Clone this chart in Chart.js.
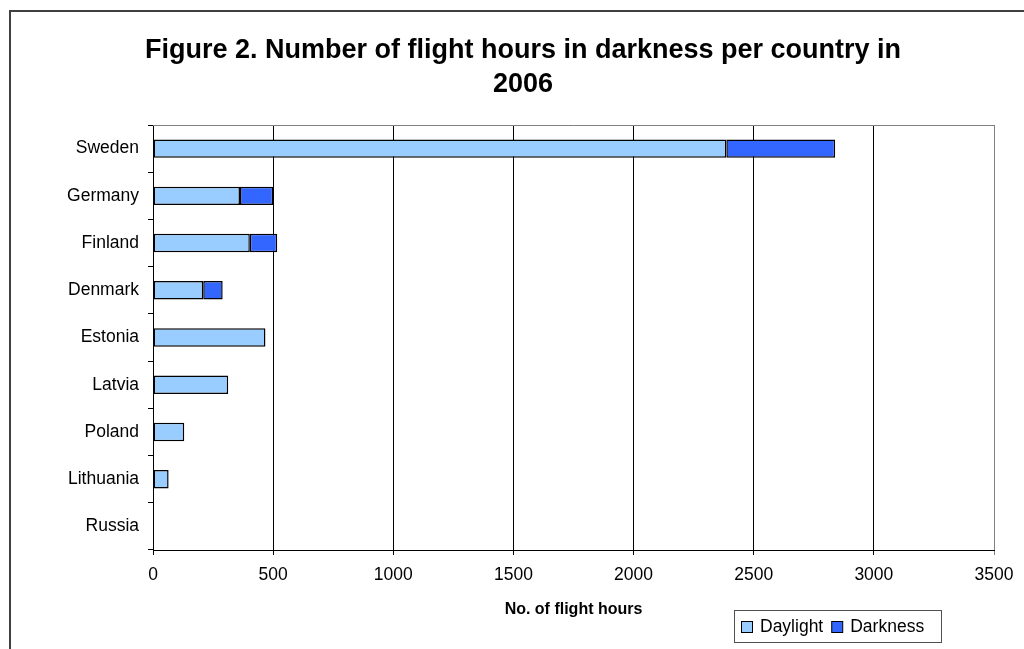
<!DOCTYPE html>
<html><head><meta charset="utf-8">
<script src="https://cdn.jsdelivr.net/npm/chart.js@4/dist/chart.umd.min.js"></script>
<style>html,body{margin:0;padding:0;background:#fff;}</style>
</head><body>
<canvas id="c" width="1024" height="649" style="display:block;width:1024px;height:649px"></canvas>
<script>
const countries = ['Sweden','Germany','Finland','Denmark','Estonia','Latvia','Poland','Lithuania','Russia'];
const daylight = [2386, 362, 403, 209, 468, 313, 130, 65, 0];
const darkness = [453, 138, 114, 81, 0, 0, 0, 0, 0];
const seriesNames = ['Daylight','Darkness'];
const seriesColors = ['#99CCFF','#3366FF'];
const titleLines = ['Figure 2. Number of flight hours in darkness per country in','2006'];
const xAxisTitle = 'No. of flight hours';
const xMin = 0, xMax = 3500, xStep = 500;

const FONT = "'Liberation Sans', Arial, sans-serif";

const decor = {
  id: 'decor',
  beforeDraw(chart) {
    const ctx = chart.ctx;
    ctx.save();
    ctx.fillStyle = '#fff';
    ctx.fillRect(0, 0, chart.width, chart.height);
    ctx.strokeStyle = '#404040';
    ctx.lineWidth = 2;
    ctx.beginPath();
    ctx.moveTo(10, chart.height + 5);
    ctx.lineTo(10, 11);
    ctx.lineTo(chart.width + 5, 11);
    ctx.stroke();
    ctx.restore();
  },
  beforeDatasetsDraw(chart) {
    const ctx = chart.ctx, a = chart.chartArea;
    ctx.save();
    ctx.strokeStyle = '#808080';
    ctx.lineWidth = 1;
    ctx.beginPath();
    ctx.moveTo(a.left, a.top + 0.5);
    ctx.lineTo(a.right + 0.5, a.top + 0.5);
    ctx.lineTo(a.right + 0.5, a.bottom);
    ctx.stroke();
    ctx.restore();
  },
  afterDraw(chart) {
    const ctx = chart.ctx;
    ctx.save();
    const bx = 734, by = 610, bw = 207, bh = 32;
    ctx.strokeStyle = '#505050';
    ctx.lineWidth = 1;
    ctx.strokeRect(bx + 0.5, by + 0.5, bw, bh);
    ctx.font = '17.5px ' + FONT;
    ctx.textBaseline = 'middle';
    ctx.textAlign = 'left';
    let x = bx + 7;
    chart.data.datasets.forEach(ds => {
      ctx.fillStyle = ds.backgroundColor;
      ctx.fillRect(x + 0.5, by + 11.5, 11, 11);
      ctx.strokeStyle = '#000';
      ctx.strokeRect(x + 0.5, by + 11.5, 11, 11);
      ctx.fillStyle = '#000';
      ctx.fillText(ds.label, x + 19, by + 17);
      x += 19 + ctx.measureText(ds.label).width + 8;
    });
    ctx.restore();
  }
};

new Chart(document.getElementById('c'), {
  type: 'bar',
  data: {
    labels: countries,
    datasets: [
      { label: seriesNames[0], data: daylight, backgroundColor: seriesColors[0], borderColor: '#000', borderWidth: 1.5, borderSkipped: false, inflateAmount: 0, barPercentage: 0.39, categoryPercentage: 1 },
      { label: seriesNames[1], data: darkness, backgroundColor: seriesColors[1], borderColor: '#000', borderWidth: 1.5, borderSkipped: false, inflateAmount: 0, barPercentage: 0.39, categoryPercentage: 1 }
    ]
  },
  options: {
    indexAxis: 'y',
    responsive: false,
    animation: false,
    devicePixelRatio: 1,
    layout: { padding: { top: 10, left: 52, right: 30, bottom: 0 } },
    scales: {
      x: {
        stacked: true, min: xMin, max: xMax,
        ticks: { stepSize: xStep, color: '#000', font: { family: FONT, size: 17.5 }, padding: 10, maxRotation: 0, callback: v => String(v) },
        grid: { color: c => (c.tick && c.tick.value === xMax) ? '#808080' : '#000', lineWidth: 1, tickLength: 5, drawTicks: true },
        border: { color: '#000', width: 1 },
        title: { display: true, text: xAxisTitle, color: '#000', font: { family: FONT, size: 16, weight: 'bold' }, padding: { top: 0, bottom: 30 } },
        afterFit: s => { s.height = 99; }
      },
      y: {
        stacked: true,
        ticks: { color: '#000', font: { family: FONT, size: 17.5 }, padding: 9 },
        grid: { drawOnChartArea: false, color: '#000', tickLength: 5, offset: true },
        border: { color: '#000', width: 1 },
        afterFit: s => { s.width = 101; }
      }
    },
    plugins: {
      legend: { display: false },
      tooltip: { enabled: false },
      title: { display: true, text: titleLines, color: '#000', font: { family: FONT, size: 27, weight: 'bold', lineHeight: 1.278 }, padding: { top: 23, bottom: 23 } }
    }
  },
  plugins: [decor]
});
</script>
</body></html>
